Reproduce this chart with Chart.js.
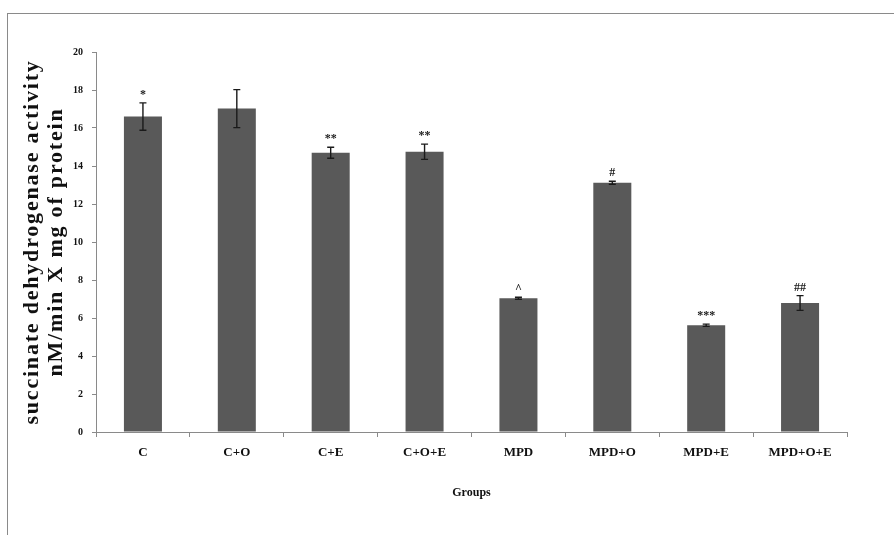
<!DOCTYPE html>
<html>
<head>
<meta charset="utf-8">
<script src="https://cdn.jsdelivr.net/npm/chart.js@4"></script>
<style>
  html, body { margin: 0; padding: 0; background: #fff; }
  #wrap { position: relative; width: 894px; height: 535px; }
  #frame { position: absolute; left: 7px; top: 13px; right: 0; bottom: 0;
    border-top: 1px solid #8a8a8a; border-left: 1px solid #8a8a8a; }
  #chart { position: absolute; left: 0; top: 0; }
</style>
</head>
<body>
<div id="wrap">
  <div id="frame"></div>
  <canvas id="chart" width="894" height="535"></canvas>
</div>
<script>
// groups on the x axis
const groups = ['C', 'C+O', 'C+E', 'C+O+E', 'MPD', 'MPD+O', 'MPD+E', 'MPD+O+E'];
// mean SDH activity per group
const means = [16.6, 17.02, 14.7, 14.75, 7.04, 13.12, 5.62, 6.79];
// error (+/-) per group
const errors = [0.72, 1.0, 0.29, 0.4, 0.05, 0.08, 0.06, 0.39];
// significance marks above bars
const marks = ['*', '', '**', '**', '^', '#', '***', '##'];
const yTicks = [0, 2, 4, 6, 8, 10, 12, 14, 16, 18, 20];

const serif = '"Liberation Serif", "Times New Roman", serif';
const axisGray = '#8a8a8a';

const errorBars = {
  id: 'errorBars',
  afterLayout(chart) {
    // the y title in the original is letter-spaced
    const y = chart.scales.y;
    if (!y._spaced) {
      const orig = y.drawTitle;
      y.drawTitle = function () {
        chart.ctx.save();
        chart.ctx.letterSpacing = '1.8px';
        orig.call(this);
        chart.ctx.restore();
      };
      y._spaced = true;
    }
  },
  afterDatasetsDraw(chart) {
    const { ctx, scales: { y } } = chart;
    const meta = chart.getDatasetMeta(0);
    ctx.save();
    ctx.strokeStyle = '#1a1a1a';
    ctx.lineWidth = 1.4;
    meta.data.forEach((bar, i) => {
      const x = bar.x;
      const top = y.getPixelForValue(means[i] + errors[i]);
      const bot = y.getPixelForValue(means[i] - errors[i]);
      ctx.beginPath();
      ctx.moveTo(x, top); ctx.lineTo(x, bot);
      ctx.moveTo(x - 3.5, top); ctx.lineTo(x + 3.5, top);
      ctx.moveTo(x - 3.5, bot); ctx.lineTo(x + 3.5, bot);
      ctx.stroke();
      if (marks[i]) {
        ctx.fillStyle = '#1a1a1a';
        ctx.font = 'bold 12px ' + serif;
        ctx.textAlign = 'center';
        ctx.textBaseline = 'bottom';
        ctx.fillText(marks[i], x, top - 2);
      }
    });
    ctx.restore();
  }
};

new Chart(document.getElementById('chart'), {
  type: 'bar',
  data: {
    labels: groups,
    datasets: [{
      data: means,
      backgroundColor: '#595959',
      borderWidth: 0,
      barPercentage: 0.405,
      categoryPercentage: 1,
    }],
  },
  options: {
    responsive: false,
    animation: false,
    layout: { padding: { left: 0, right: 47, top: 52, bottom: 0 } },
    plugins: { legend: { display: false }, tooltip: { enabled: false } },
    scales: {
      x: {
        afterFit(scale) { scale.height = 103; },
        grid: { display: true, drawOnChartArea: false, drawTicks: true, tickLength: 5, color: axisGray, offset: true },
        border: { display: true, color: axisGray },
        ticks: { color: '#111', padding: 8, font: { family: serif, size: 13, weight: 'bold' }, maxRotation: 0 },
        title: { display: true, text: 'Groups', color: '#111',
          font: { family: serif, size: 12, weight: 'bold' }, padding: { top: 0, bottom: 35 } },
      },
      y: {
        min: 0,
        max: 20,
        afterFit(scale) { scale.width = 96; },
        afterBuildTicks(scale) { scale.ticks = yTicks.map(v => ({ value: v })); },
        grid: { display: true, drawOnChartArea: false, drawTicks: true, tickLength: 4, color: axisGray },
        border: { display: true, color: axisGray },
        ticks: { color: '#111', padding: 9, font: { family: serif, size: 10, weight: 'bold' } },
        title: { display: true, text: ['succinate dehydrogenase activity', 'nM/min X mg of protein'],
          color: '#111', font: { family: serif, size: 22, weight: 'bold', lineHeight: 1.1 },
          padding: { top: 20, bottom: 0 } },
      },
    },
  },
  plugins: [errorBars],
});
</script>
</body>
</html>
